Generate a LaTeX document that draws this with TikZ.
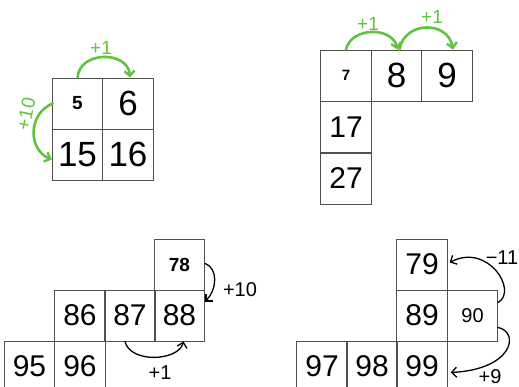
\documentclass[tikz,border=0pt]{standalone}
\usepackage{fontspec}
\setmainfont{Liberation Sans}
\usetikzlibrary{arrows.meta}
\definecolor{hgreen}{RGB}{95,196,62}
\definecolor{cellline}{RGB}{80,80,80}
\begin{document}
\begin{tikzpicture}[x=1pt,y=-1pt,
  cell/.style={draw=cellline,line width=0.9pt,minimum width=50.5pt,minimum height=51pt,inner sep=0pt,anchor=center},
  hand/.style={font=\fontsize{30}{30}\selectfont},
  handbig/.style={font=\fontsize{35}{35}\selectfont},
  printed/.style={font=\fontsize{19}{19}\selectfont\bfseries},
  printedreg/.style={font=\fontsize{20}{20}\selectfont},
  printedsmall/.style={font=\fontsize{15}{15}\selectfont\bfseries},
  garrow/.style={draw=hgreen,line width=2.6pt,line cap=round,-{Straight Barb[length=5pt,width=10pt,line width=2.4pt]}},
  barrow/.style={draw=black,line width=1.3pt,line cap=round,-{Straight Barb[length=5pt,width=10pt,line width=1.3pt]}},
  glabel/.style={text=hgreen,font=\fontsize{19}{19}\selectfont},
  blabel/.style={text=black,font=\fontsize{20}{20}\selectfont}]

\useasboundingbox[fill=white] (0,0) rectangle (519,387);

% --- top-left block
\node[cell,printed] (c5) at (77.5,103.5) {5};
\node[cell,handbig] (c6) at (128,103.5) {6};
\node[cell,handbig] (c15) at (77.5,154.5) {15};
\node[cell,handbig] (c16) at (128,154.5) {16};
\draw[garrow] (c5.north) .. controls +(2,-27) and +(-2,-27) .. ([xshift=2pt]c6.north);
\draw[garrow] ([xshift=1pt]c5.west) .. controls +(-25,10) and +(-24,-10) .. ([yshift=-5pt]c15.west);
\node[glabel] (l1a) at (101,48) {+1};
\node[glabel,rotate=78,inner sep=0pt] (l10a) at (26,114) {+10};

% --- top-right block
\node[cell,printedsmall] (c7) at (346,75.5) {7};
\node[cell,handbig] (c8) at (396.5,75.5) {8};
\node[cell,handbig] (c9) at (447,75.5) {9};
\node[cell,hand] (c17) at (346,127) {17};
\node[cell,hand] (c27) at (346,178.5) {27};
\draw[garrow] (c7.north) .. controls +(5,-23) and +(-5,-23) .. ([xshift=1pt]c8.north);
\draw[garrow] ([xshift=3pt]c8.north) .. controls +(5,-29) and +(-5,-29) .. ([xshift=6pt]c9.north);
\node[glabel] (l1b) at (368,24) {+1};
\node[glabel] (l1c) at (432,17) {+1};

% --- bottom-left block
\node[cell,printed] (c78) at (179.5,264.5) {78};
\node[cell,hand] (c86) at (80,315.5) {86};
\node[cell,hand] (c87) at (130,315.5) {87};
\node[cell,hand] (c88) at (179.5,315.5) {88};
\node[cell,hand] (c95) at (29.5,366.5) {95};
\node[cell,hand] (c96) at (80,366.5) {96};
\draw[barrow] ([yshift=1pt]c78.east) .. controls +(13,5) and +(12,-12) .. ([yshift=14pt]c88.east);
\draw[barrow] ([xshift=-5pt]c87.south) .. controls +(5,22) and +(-5,20) .. ([xshift=4pt]c88.south);
\node[blabel] (l10b) at (240,290) {+10};
\node[blabel] (l1d) at (160,373) {+1};

% --- bottom-right block
\node[cell,hand] (c79) at (422,264.5) {79};
\node[cell,hand] (c89) at (422,315.5) {89};
\node[cell,printedreg] (c90) at (472.5,315.5) {90};
\node[cell,hand] (c97) at (322,366.5) {97};
\node[cell,hand] (c98) at (372,366.5) {98};
\node[cell,hand] (c99) at (422,366.5) {99};
\draw[barrow] ([yshift=13pt]c90.east) .. controls +(20,-12) and +(38,-20) .. ([xshift=2pt,yshift=2pt]c79.east);
\draw[barrow] ([yshift=-12pt]c90.east) .. controls +(22,5) and +(62,-3) .. ([xshift=3pt,yshift=-6pt]c99.east);
\node[blabel] (l11) at (502,258) {−11};
\node[blabel] (l9) at (490,377) {+9};
\end{tikzpicture}
\end{document}
